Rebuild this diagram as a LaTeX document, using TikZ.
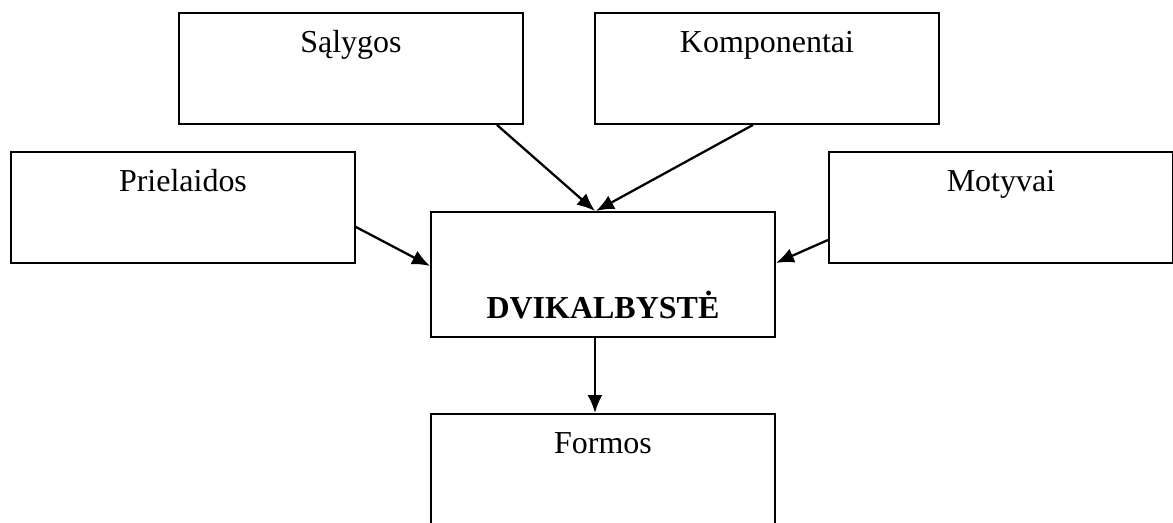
\documentclass[tikz,border=0pt]{standalone}
\usepackage{fontspec}
\setmainfont{Liberation Serif}
\usepackage{tikz}
\usetikzlibrary{arrows.meta,positioning}

\begin{document}
\begin{tikzpicture}[
    box/.style={draw,line width=1.1pt,anchor=north west,inner sep=0pt,
        minimum width=6.88cm,text height=0.8cm,text depth=1.42cm,
        font=\fontsize{18.2}{22}\selectfont},
    arr/.style={line width=1.3pt,-{Latex[length=0.36cm,width=0.3cm]}}]
    \useasboundingbox (0,0) rectangle (23.46,-10.44);
    \clip (0,0) rectangle (23.46,-10.44);
    \node[box] (salygos) at (3.56,-0.24) {Sąlygos};
    \node[box] (komponentai) at (11.88,-0.24) {Komponentai};
    \node[box] (prielaidos) at (0.2,-3.02) {Prielaidos};
    \node[box] (motyvai) at (16.56,-3.02) {Motyvai};
    \node[box,text height=2.14cm,text depth=0.36cm,font=\fontsize{18.2}{22}\selectfont\bfseries]
        (dvikalbyste) at (8.6,-4.22) {DVIKALBYSTĖ};
    \node[box,text depth=2.5cm] (formos) at (8.6,-8.26) {Formos};
    % rodyklės
    \draw[arr] ([xshift=2.92cm]salygos.south) -- ([xshift=-0.16cm]dvikalbyste.north);
    \draw[arr] ([xshift=-0.28cm]komponentai.south) -- ([xshift=-0.14cm]dvikalbyste.north);
    \draw[arr] ([yshift=-0.39cm]prielaidos.east) -- ([yshift=0.17cm]dvikalbyste.west);
    \draw[arr] ([yshift=-0.65cm]motyvai.west) -- ([yshift=0.23cm]dvikalbyste.east);
    \draw[arr] ([xshift=-0.16cm]dvikalbyste.south) -- ([xshift=-0.16cm]formos.north);
\end{tikzpicture}
\end{document}
